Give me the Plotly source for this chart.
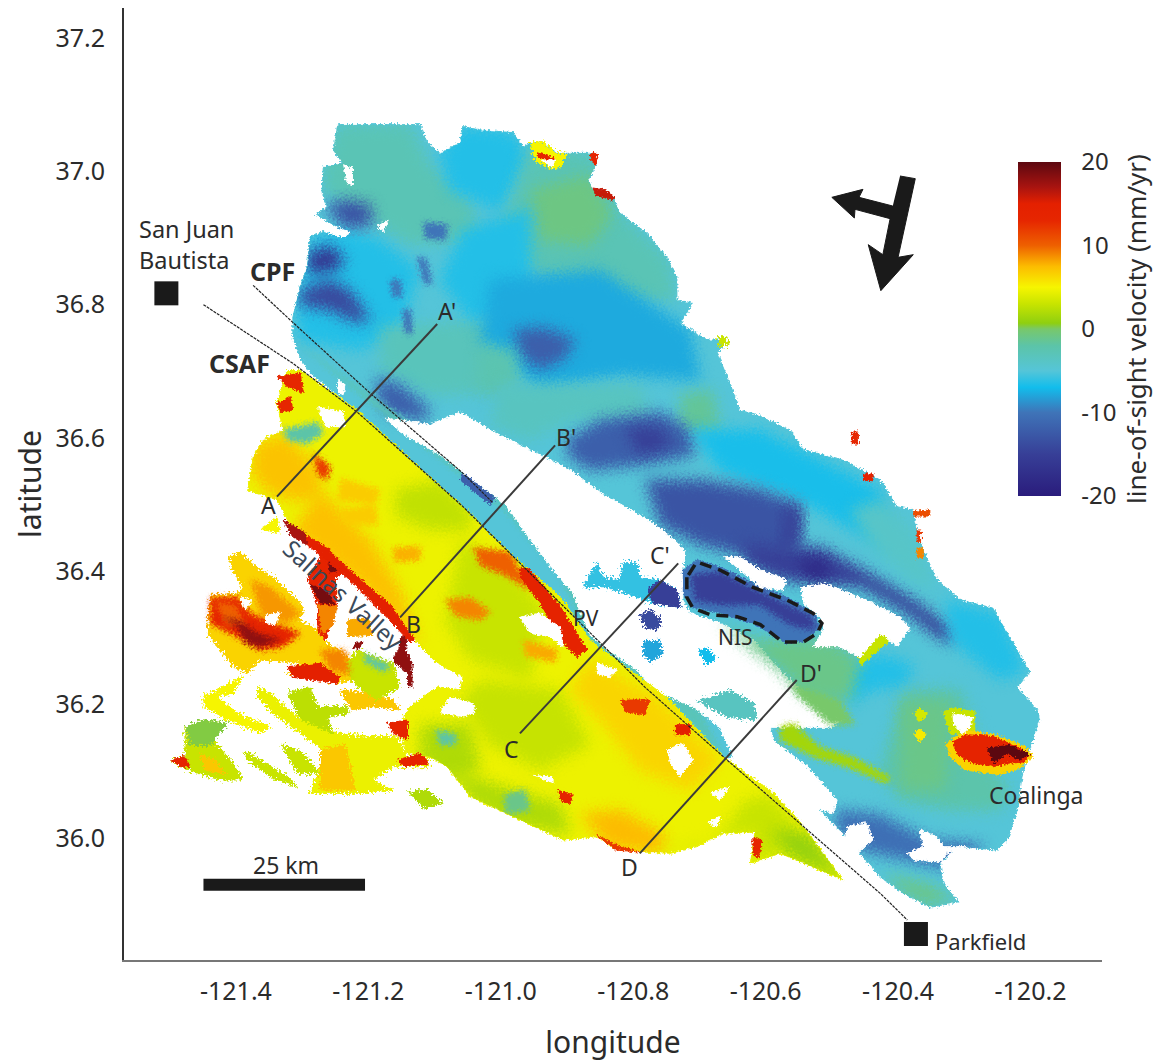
import json
import plotly.graph_objects as go
from plotly.colors import sample_colorscale

# ---- colour scale (line-of-sight velocity, mm/yr) ----
V_MIN, V_MAX = -20, 20
scale_values = [-20, -15, -10, -7, -5, -2, 0, 0.7, 3, 5, 7.5, 10, 13, 15, 17, 20]
scale_colors = ["#2a1c7c", "#373f97", "#3f74b8", "#12bdec", "#55c5d8", "#5cc4a8", "#78c86a", "#8fcf10",
                "#c8e400", "#f6f500", "#fcbc00", "#ee6000", "#e62600", "#e42000", "#a81410", "#5c0810"]
tick_x = [-121.4, -121.2, -121.0, -120.8, -120.6, -120.4, -120.2]
tick_x_text = ["-121.4", "-121.2", "-121.0", "-120.8", "-120.6", "-120.4", "-120.2"]
tick_y = [36.0, 36.2, 36.4, 36.6, 36.8, 37.0, 37.2]
tick_y_text = ["36.0", "36.2", "36.4", "36.6", "36.8", "37.0", "37.2"]
cbar_ticks = [-20, -10, 0, 10, 20]
cbar_text = ["-20", "-10", "0", "10", "20"]

# ---- north-east (blue) side of the scene, lon/lat outline ----
ne_base = [(-121.247,37.070),(-121.122,37.070),(-121.111,37.043),(-121.092,37.027),(-121.061,37.043),(-121.057,37.067),(-121.031,37.062),(-120.981,37.058),(-120.966,37.037),(-120.956,37.043),(-120.936,37.044),(-120.915,37.027),(-120.861,37.027),(-120.855,37.012),(-120.868,36.987),(-120.861,36.972),(-120.830,36.960),(-120.820,36.937),(-120.779,36.907),(-120.749,36.871),(-120.734,36.841),(-120.734,36.807),(-120.710,36.802),(-120.729,36.772),(-120.688,36.747),(-120.658,36.747),(-120.673,36.727),(-120.654,36.682),(-120.639,36.642),(-120.604,36.631),(-120.563,36.612),(-120.543,36.582),(-120.483,36.567),(-120.427,36.537),(-120.402,36.497),(-120.377,36.492),(-120.371,36.457),(-120.356,36.417),(-120.341,36.387),(-120.306,36.357),(-120.257,36.345),(-120.241,36.316),(-120.235,36.307),(-120.201,36.249),(-120.220,36.226),(-120.190,36.192),(-120.186,36.177),(-120.205,36.122),(-120.213,36.091),(-120.220,36.042),(-120.235,35.997),(-120.251,35.982),(-120.287,35.985),(-120.311,35.987),(-120.337,35.962),(-120.332,35.932),(-120.309,35.904),(-120.352,35.896),(-120.392,35.917),(-120.427,35.942),(-120.488,36.012),(-120.548,36.072),(-120.628,36.122),(-120.664,36.122),(-120.749,36.211),(-120.820,36.263),(-120.865,36.297),(-120.910,36.362),(-120.981,36.422),(-121.057,36.497),(-121.107,36.541),(-121.217,36.642),(-121.288,36.697),(-121.303,36.721),(-121.314,36.751),(-121.314,36.781),(-121.303,36.827),(-121.292,36.857),(-121.288,36.902),(-121.247,36.917),(-121.280,36.935),(-121.262,36.947),(-121.270,36.968),(-121.268,37.006),(-121.238,37.012),(-121.253,37.032)]
ne_p1 = [(-121.247,37.070),(-121.137,37.070),(-121.107,37.010),(-121.046,36.957),(-121.031,36.897),(-121.137,36.890),(-121.235,36.950),(-121.268,36.972),(-121.268,37.006)]
ne_p2 = [(-121.092,37.027),(-121.057,37.067),(-120.981,37.058),(-120.956,37.017),(-121.001,36.942),(-121.077,36.972)]
ne_p3 = [(-120.956,37.040),(-120.861,37.027),(-120.820,36.937),(-120.749,36.871),(-120.734,36.807),(-120.790,36.807),(-120.865,36.807),(-120.956,36.852),(-121.001,36.912)]
ne_p4 = [(-120.956,36.972),(-120.865,36.995),(-120.832,36.934),(-120.865,36.889),(-120.941,36.897)]
ne_p5 = [(-121.288,36.902),(-121.235,36.912),(-121.182,36.897),(-121.122,36.852),(-121.152,36.762),(-121.212,36.732),(-121.303,36.747),(-121.310,36.807)]
ne_p6 = [(-121.295,36.875),(-121.258,36.890),(-121.235,36.864),(-121.250,36.852),(-121.288,36.845)]
ne_p7 = [(-121.265,36.947),(-121.235,36.957),(-121.197,36.950),(-121.194,36.920),(-121.235,36.915)]
ne_p8 = [(-121.303,36.822),(-121.258,36.837),(-121.228,36.822),(-121.197,36.777),(-121.220,36.774),(-121.258,36.792),(-121.303,36.799)]
ne_p9 = [(-121.190,36.690),(-121.152,36.680),(-121.107,36.642),(-121.114,36.627),(-121.167,36.634),(-121.185,36.657)]
ne_p10 = [(-121.182,36.767),(-121.001,36.777),(-121.006,36.667),(-121.107,36.665),(-121.182,36.702)]
ne_p11 = [(-121.057,36.912),(-120.956,36.942),(-120.956,36.792),(-121.046,36.777),(-121.092,36.837)]
ne_p12 = [(-121.016,36.837),(-120.850,36.852),(-120.714,36.762),(-120.699,36.687),(-120.820,36.695),(-120.941,36.672),(-121.031,36.747)]
ne_p13 = [(-120.981,36.762),(-120.933,36.765),(-120.888,36.747),(-120.903,36.720),(-120.941,36.702),(-120.971,36.724)]
ne_p15 = [(-121.034,36.739),(-120.978,36.732),(-120.971,36.680),(-121.016,36.665),(-121.034,36.680)]
ne_p16 = [(-121.001,36.680),(-120.790,36.680),(-120.774,36.627),(-120.895,36.627),(-120.956,36.597),(-121.016,36.620)]
ne_p17 = [(-120.729,36.665),(-120.681,36.672),(-120.669,36.612),(-120.729,36.612)]
ne_p18 = [(-120.900,36.597),(-120.850,36.627),(-120.759,36.639),(-120.714,36.612),(-120.707,36.574),(-120.790,36.559),(-120.865,36.552),(-120.900,36.574)]
ne_p19 = [(-120.812,36.615),(-120.759,36.615),(-120.741,36.590),(-120.790,36.574)]
ne_p20 = [(-120.714,36.612),(-120.608,36.612),(-120.427,36.522),(-120.412,36.432),(-120.548,36.507),(-120.669,36.552)]
ne_p21 = [(-120.782,36.537),(-120.699,36.537),(-120.608,36.522),(-120.553,36.500),(-120.553,36.425),(-120.608,36.417),(-120.699,36.440),(-120.759,36.470)]
band_b = [(-120.639,36.440),(-120.578,36.437),(-120.518,36.437),(-120.453,36.402),(-120.377,36.357),(-120.317,36.312),(-120.317,36.292),(-120.341,36.302),(-120.386,36.337),(-120.453,36.376),(-120.513,36.382),(-120.578,36.387),(-120.625,36.410)]
band_core = [(-120.548,36.417),(-120.510,36.417),(-120.503,36.387),(-120.540,36.390)]
band_vert = [(-120.571,36.500),(-120.545,36.495),(-120.548,36.439),(-120.575,36.439)]
ridge_e = [(-120.472,36.492),(-120.427,36.507),(-120.374,36.462),(-120.344,36.372),(-120.382,36.387),(-120.442,36.439)]
cyan_se = [(-120.329,36.357),(-120.246,36.335),(-120.208,36.252),(-120.246,36.237),(-120.321,36.297)]
cyan_mid = [(-120.488,36.255),(-120.427,36.275),(-120.377,36.260),(-120.389,36.230),(-120.442,36.222),(-120.473,36.200)]
green_coal = [(-120.389,36.222),(-120.306,36.222),(-120.269,36.117),(-120.231,36.072),(-120.246,36.042),(-120.321,36.042),(-120.397,36.057),(-120.427,36.102)]
green_coal2 = [(-120.397,36.207),(-120.321,36.207),(-120.329,36.072),(-120.397,36.072)]
dark_south = [(-120.495,36.042),(-120.427,36.035),(-120.352,35.997),(-120.269,35.990),(-120.314,35.952),(-120.389,35.967),(-120.457,35.982),(-120.492,36.012)]
tail_green = [(-120.420,35.945),(-120.352,35.930),(-120.314,35.907),(-120.359,35.900),(-120.397,35.922)]
strip = [(-121.303,36.740),(-121.212,36.665),(-121.107,36.582),(-120.993,36.492),(-120.910,36.395),(-120.865,36.297),(-120.820,36.263),(-120.749,36.211),(-120.664,36.122),(-120.700,36.190),(-120.800,36.280),(-120.900,36.400),(-121.050,36.560)]
streak_a = [(-121.117,36.923),(-121.081,36.920),(-121.084,36.897),(-121.114,36.900)]
streak_b = [(-121.167,36.837),(-121.152,36.837),(-121.149,36.812),(-121.163,36.812)]
streak_c = [(-121.126,36.870),(-121.114,36.870),(-121.104,36.832),(-121.116,36.832)]
streak_d = [(-121.148,36.792),(-121.137,36.792),(-121.134,36.757),(-121.144,36.757)]
streak_e = [(-121.057,36.549),(-121.009,36.510),(-121.016,36.500),(-121.061,36.537)]

# ---- thin bright fringe on the north-east edge ----
edge_y1 = [(-120.956,37.043),(-120.936,37.044),(-120.915,37.027),(-120.900,37.027),(-120.911,37.005),(-120.926,37.005),(-120.948,37.016)]
edge_r1 = [(-120.944,37.028),(-120.920,37.020),(-120.920,37.014),(-120.944,37.022)]
edge_h1 = [(-120.938,37.017),(-120.918,37.017),(-120.923,37.005)]
edge_r2 = [(-120.865,37.027),(-120.855,37.027),(-120.855,37.009),(-120.865,37.017)]
edge_r3 = [(-120.861,36.975),(-120.842,36.972),(-120.826,36.961),(-120.832,36.957),(-120.858,36.965)]
edge_g1 = [(-120.673,36.752),(-120.660,36.752),(-120.656,36.740),(-120.670,36.737)]
edge_r4 = [(-120.470,36.609),(-120.460,36.609),(-120.460,36.591),(-120.470,36.591)]
edge_r5 = [(-120.453,36.546),(-120.438,36.546),(-120.438,36.536),(-120.453,36.536)]
edge_r6 = [(-120.377,36.490),(-120.352,36.492),(-120.352,36.483),(-120.377,36.483)]
edge_r7 = [(-120.372,36.462),(-120.366,36.462),(-120.366,36.445),(-120.372,36.445)]
edge_r8 = [(-120.372,36.435),(-120.362,36.435),(-120.362,36.420),(-120.372,36.420)]

# ---- data gap between the two faults and objects inside it ----
gap_main = [(-121.175,36.630),(-121.107,36.620),(-121.061,36.639),(-121.016,36.612),(-120.966,36.587),(-120.895,36.552),(-120.845,36.515),(-120.794,36.487),(-120.755,36.462),(-120.722,36.432),(-120.725,36.402),(-120.725,36.357),(-120.714,36.337),(-120.669,36.322),(-120.619,36.297),(-120.583,36.257),(-120.553,36.227),(-120.483,36.177),(-120.503,36.166),(-120.593,36.166),(-120.589,36.147),(-120.537,36.107),(-120.492,36.057),(-120.498,36.037),(-120.533,36.047),(-120.574,36.062),(-120.628,36.107),(-120.649,36.122),(-120.669,36.166),(-120.710,36.197),(-120.770,36.222),(-120.794,36.252),(-120.839,36.282),(-120.865,36.305),(-120.891,36.367),(-120.921,36.402),(-120.966,36.462),(-120.993,36.500),(-121.031,36.529),(-121.092,36.575),(-121.152,36.609)]
gap_band = [(-120.876,36.376),(-120.855,36.413),(-120.845,36.391),(-120.820,36.387),(-120.815,36.413),(-120.794,36.413),(-120.790,36.391),(-120.759,36.387),(-120.734,36.372),(-120.729,36.346),(-120.770,36.352),(-120.794,36.361),(-120.839,36.376)]
gap_dark = [(-120.779,36.372),(-120.759,36.387),(-120.734,36.372),(-120.729,36.346),(-120.770,36.352)]
blob_a = [(-120.790,36.335),(-120.774,36.342),(-120.759,36.330),(-120.762,36.312),(-120.782,36.315)]
blob_b = [(-120.785,36.294),(-120.759,36.297),(-120.756,36.275),(-120.774,36.264),(-120.785,36.275)]
blob_c = [(-120.702,36.282),(-120.687,36.285),(-120.675,36.267),(-120.691,36.261)]
blob_d = [(-120.704,36.207),(-120.684,36.211),(-120.654,36.222),(-120.619,36.202),(-120.613,36.177),(-120.658,36.181),(-120.688,36.197)]
green_nis = [(-120.669,36.319),(-120.609,36.297),(-120.503,36.297),(-120.457,36.267),(-120.473,36.207),(-120.533,36.207),(-120.578,36.252)]
green_dp = [(-120.563,36.232),(-120.488,36.207),(-120.465,36.170),(-120.503,36.170),(-120.553,36.215)]
green_band = [(-120.578,36.166),(-120.558,36.172),(-120.518,36.136),(-120.468,36.121),(-120.412,36.091),(-120.417,36.082),(-120.477,36.107),(-120.528,36.122),(-120.578,36.147)]
nis_base = [(-120.725,36.402),(-120.704,36.417),(-120.669,36.407),(-120.619,36.382),(-120.568,36.361),(-120.528,36.337),(-120.518,36.317),(-120.537,36.297),(-120.568,36.292),(-120.619,36.322),(-120.669,36.337),(-120.710,36.346),(-120.725,36.367)]
nis_dark = [(-120.714,36.394),(-120.669,36.399),(-120.608,36.369),(-120.530,36.332),(-120.526,36.312),(-120.563,36.320),(-120.608,36.350),(-120.669,36.350),(-120.707,36.357)]
fringe = [(-120.465,36.297),(-120.420,36.319),(-120.412,36.297),(-120.457,36.259)]
hole_n1 = [(-120.664,36.422),(-120.639,36.422),(-120.608,36.402),(-120.568,36.387),(-120.574,36.372),(-120.608,36.376),(-120.639,36.402)]
hole_n2 = [(-120.548,36.376),(-120.513,36.382),(-120.492,36.375),(-120.438,36.352),(-120.397,36.331),(-120.382,36.315),(-120.402,36.287),(-120.427,36.307),(-120.457,36.271),(-120.488,36.287),(-120.528,36.287),(-120.513,36.312),(-120.518,36.331),(-120.543,36.352)]
hole_s1 = [(-120.477,36.017),(-120.447,36.023),(-120.438,35.997),(-120.462,35.977),(-120.483,35.987)]
hole_s2 = [(-120.386,35.977),(-120.362,35.987),(-120.367,36.012),(-120.341,36.002),(-120.332,35.987),(-120.296,35.987),(-120.326,35.977),(-120.337,35.964),(-120.377,35.967)]
hole_w1 = [(-121.238,37.010),(-121.224,37.005),(-121.224,36.980),(-121.233,36.983)]
hole_w2 = [(-121.187,36.917),(-121.170,36.927),(-121.178,36.909)]
hole_w3 = [(-121.273,36.924),(-121.228,36.909),(-121.235,36.900),(-121.265,36.909)]
hole_w4 = [(-121.247,36.687),(-121.235,36.680),(-121.238,36.665),(-121.247,36.669)]

# ---- Coalinga ----
spot_a = [(-120.377,36.185),(-120.367,36.195),(-120.356,36.185),(-120.367,36.174)]
spot_b = [(-120.376,36.155),(-120.367,36.165),(-120.358,36.155),(-120.367,36.144)]
coal_ring = [(-120.333,36.189),(-120.314,36.195),(-120.284,36.189),(-120.284,36.162),(-120.321,36.155)]
coal_yellow = [(-120.329,36.140),(-120.299,36.162),(-120.254,36.155),(-120.208,36.137),(-120.196,36.122),(-120.216,36.105),(-120.246,36.095),(-120.299,36.102),(-120.321,36.122)]
coal_red = [(-120.318,36.144),(-120.296,36.155),(-120.256,36.152),(-120.216,36.135),(-120.201,36.125),(-120.211,36.114),(-120.235,36.112),(-120.256,36.107),(-120.291,36.114),(-120.311,36.125)]
coal_dark = [(-120.266,36.135),(-120.231,36.139),(-120.201,36.125),(-120.220,36.117),(-120.235,36.127),(-120.256,36.112)]
coal_hole = [(-120.318,36.187),(-120.288,36.181),(-120.291,36.165),(-120.303,36.157),(-120.317,36.172)]

# ---- south-west (yellow) block ----
sw_base = [(-121.303,36.702),(-121.217,36.642),(-121.107,36.541),(-121.057,36.497),(-120.981,36.422),(-120.910,36.362),(-120.865,36.297),(-120.820,36.263),(-120.749,36.211),(-120.664,36.122),(-120.589,36.068),(-120.548,36.024),(-120.483,35.937),(-120.578,35.977),(-120.623,35.962),(-120.616,36.009),(-120.664,36.007),(-120.704,35.987),(-120.744,35.977),(-120.785,35.979),(-120.830,35.985),(-120.855,36.002),(-120.906,35.997),(-120.971,36.027),(-121.046,36.062),(-121.081,36.107),(-121.107,36.122),(-121.141,36.127),(-121.156,36.166),(-121.137,36.197),(-121.096,36.227),(-121.061,36.222),(-121.057,36.241),(-121.096,36.262),(-121.126,36.292),(-121.152,36.327),(-121.217,36.382),(-121.262,36.432),(-121.314,36.462),(-121.338,36.507),(-121.382,36.522),(-121.374,36.571),(-121.359,36.597),(-121.329,36.612),(-121.338,36.652),(-121.323,36.702)]
sw_g1 = [(-121.159,36.522),(-121.092,36.537),(-121.046,36.492),(-121.046,36.462),(-121.107,36.462),(-121.159,36.484)]
sw_g2 = [(-121.061,36.447),(-120.986,36.409),(-120.933,36.342),(-120.956,36.237),(-121.046,36.267),(-121.084,36.327)]
sw_g3 = [(-121.031,36.237),(-120.910,36.222),(-120.865,36.140),(-120.941,36.102),(-121.016,36.140),(-121.061,36.207)]
sw_g4 = [(-121.122,36.170),(-121.046,36.170),(-121.031,36.102),(-121.077,36.087),(-121.122,36.117)]
sw_g5 = [(-121.077,36.102),(-120.910,36.050),(-120.895,36.005),(-120.986,36.020),(-121.046,36.057)]
sw_t1 = [(-120.995,36.065),(-120.963,36.072),(-120.956,36.042),(-120.993,36.035)]
sw_t2 = [(-121.099,36.162),(-121.069,36.155),(-121.069,36.140),(-121.092,36.140)]
sw_o1 = [(-121.371,36.590),(-121.326,36.605),(-121.273,36.552),(-121.273,36.507),(-121.318,36.507),(-121.356,36.522),(-121.378,36.552)]
sw_r1 = [(-121.283,36.577),(-121.258,36.557),(-121.262,36.537),(-121.277,36.547)]
sw_r2 = [(-121.338,36.692),(-121.303,36.697),(-121.298,36.667),(-121.325,36.679)]
sw_r3 = [(-121.338,36.652),(-121.318,36.662),(-121.314,36.642),(-121.333,36.639)]
sw_t3 = [(-121.329,36.612),(-121.277,36.623),(-121.268,36.607),(-121.292,36.592),(-121.323,36.597)]
sw_o2 = [(-121.314,36.462),(-121.212,36.382),(-121.122,36.290),(-121.152,36.372),(-121.197,36.447),(-121.273,36.522)]
sw_edge = [(-121.314,36.466),(-121.262,36.435),(-121.235,36.408),(-121.167,36.350),(-121.130,36.297),(-121.137,36.294),(-121.175,36.334),(-121.220,36.379),(-121.273,36.425),(-121.318,36.459)]
sw_o3 = [(-121.084,36.357),(-121.046,36.360),(-121.016,36.339),(-121.031,36.327),(-121.069,36.334)]
sw_o4 = [(-121.042,36.435),(-120.986,36.429),(-120.956,36.372),(-120.993,36.394),(-121.031,36.409)]
sw_pv = [(-120.971,36.407),(-120.956,36.402),(-120.910,36.347),(-120.870,36.282),(-120.885,36.272),(-120.906,36.293),(-120.941,36.353),(-120.971,36.392)]
sw_o5 = [(-120.865,36.267),(-120.760,36.207),(-120.669,36.117),(-120.714,36.072),(-120.790,36.102),(-120.850,36.177),(-120.895,36.222)]
sw_r4 = [(-120.737,36.170),(-120.714,36.170),(-120.714,36.155),(-120.737,36.155)]
sw_r5 = [(-120.820,36.207),(-120.775,36.207),(-120.782,36.185),(-120.812,36.189)]
sw_o6 = [(-120.880,36.035),(-120.820,36.042),(-120.752,36.005),(-120.759,35.979),(-120.835,35.985)]
sw_rim = [(-120.857,36.005),(-120.827,35.990),(-120.790,35.979),(-120.827,35.982)]
sw_e1 = [(-120.767,35.982),(-120.699,35.990),(-120.661,36.012),(-120.631,36.057),(-120.593,36.065),(-120.483,35.937),(-120.578,35.977),(-120.623,35.962),(-120.616,36.009)]
sw_e2 = [(-120.593,36.012),(-120.533,36.005),(-120.483,35.937),(-120.563,35.975)]
sw_r6 = [(-120.620,36.000),(-120.605,35.997),(-120.611,35.970),(-120.619,35.975)]
sw_r7 = [(-120.913,36.072),(-120.892,36.065),(-120.895,36.050),(-120.910,36.057)]
sw_r8 = [(-121.172,36.172),(-121.141,36.177),(-121.141,36.147),(-121.162,36.157)]
sw_r9 = [(-121.156,36.117),(-121.122,36.127),(-121.107,36.112),(-121.147,36.107)]
sw_m1 = [(-121.243,36.492),(-121.190,36.500),(-121.185,36.470),(-121.235,36.470)]
sw_m2 = [(-121.163,36.435),(-121.122,36.437),(-121.122,36.417),(-121.160,36.414)]
sw_m3 = [(-120.966,36.297),(-120.915,36.282),(-120.918,36.264),(-120.963,36.274)]
sw_m4 = [(-120.805,36.196),(-120.785,36.192),(-120.790,36.177),(-120.808,36.183)]
sw_m5 = [(-121.243,36.540),(-121.182,36.522),(-121.190,36.500),(-121.246,36.507)]
sw_h1 = [(-121.277,36.647),(-121.238,36.639),(-121.235,36.617),(-121.265,36.617)]
sw_h2 = [(-121.092,36.187),(-121.077,36.211),(-121.042,36.202),(-121.039,36.187),(-121.061,36.182)]
sw_h3 = [(-120.971,36.331),(-120.941,36.337),(-120.910,36.316),(-120.906,36.286),(-120.925,36.302),(-120.956,36.307)]
sw_h4 = [(-120.749,36.132),(-120.725,36.142),(-120.710,36.117),(-120.729,36.091),(-120.744,36.112)]
sw_h5 = [(-120.855,36.262),(-120.824,36.252),(-120.835,36.241),(-120.855,36.247)]
sw_h6 = [(-120.684,36.067),(-120.654,36.077),(-120.669,36.057)]
sw_h7 = [(-120.688,36.022),(-120.669,36.032),(-120.673,36.016)]
sw_h8 = [(-120.951,36.094),(-120.921,36.091),(-120.921,36.082)]

# ---- west lobes, beyond the Salinas Valley ----
lobe = [(-121.409,36.422),(-121.394,36.429),(-121.368,36.406),(-121.338,36.387),(-121.298,36.347),(-121.303,36.327),(-121.277,36.312),(-121.262,36.292),(-121.243,36.282),(-121.228,36.267),(-121.223,36.237),(-121.247,36.232),(-121.323,36.247),(-121.303,36.262),(-121.363,36.267),(-121.383,36.247),(-121.404,36.257),(-121.419,36.277),(-121.443,36.307),(-121.439,36.364),(-121.398,36.367),(-121.389,36.376),(-121.406,36.402)]
lobe_o = [(-121.378,36.387),(-121.348,36.376),(-121.303,36.337),(-121.323,36.322),(-121.363,36.337)]
lobe_r = [(-121.439,36.361),(-121.398,36.361),(-121.378,36.337),(-121.344,36.322),(-121.303,36.307),(-121.329,36.287),(-121.363,36.282),(-121.398,36.302),(-121.439,36.322)]
lobe_o2 = [(-121.431,36.354),(-121.401,36.350),(-121.386,36.320),(-121.416,36.320)]
lobe_d = [(-121.419,36.332),(-121.389,36.322),(-121.368,36.307),(-121.333,36.297),(-121.363,36.287),(-121.383,36.292),(-121.398,36.317)]
lobe_h1 = [(-121.394,36.361),(-121.376,36.357),(-121.386,36.342)]
lobe_h2 = [(-121.356,36.334),(-121.333,36.339),(-121.341,36.319),(-121.356,36.324)]
valley = [(-121.292,36.387),(-121.268,36.429),(-121.238,36.402),(-121.250,36.387),(-121.247,36.347),(-121.258,36.320),(-121.265,36.297),(-121.276,36.309),(-121.277,36.350)]
valley_d1 = [(-121.288,36.380),(-121.265,36.372),(-121.250,36.350),(-121.273,36.353)]
valley_d2 = [(-121.265,36.427),(-121.240,36.402),(-121.258,36.399)]
valley_o = [(-121.277,36.350),(-121.247,36.347),(-121.253,36.320),(-121.270,36.305)]
edge_dark = [(-121.329,36.477),(-121.296,36.459),(-121.292,36.439),(-121.318,36.454)]
near_a = [(-121.363,36.462),(-121.338,36.481),(-121.333,36.457)]
sq_orange = [(-121.232,36.327),(-121.200,36.330),(-121.193,36.304),(-121.232,36.302)]
red_blob = [(-121.220,36.294),(-121.209,36.294),(-121.215,36.282),(-121.223,36.285)]
near_b = [(-121.152,36.302),(-121.141,36.302),(-121.144,36.282),(-121.134,36.262),(-121.134,36.227),(-121.140,36.227),(-121.141,36.247),(-121.163,36.267),(-121.155,36.282)]
belt = [(-121.323,36.257),(-121.273,36.262),(-121.243,36.241),(-121.247,36.232),(-121.314,36.241)]
belt_o = [(-121.273,36.282),(-121.235,36.282),(-121.228,36.245),(-121.258,36.252)]
mid_g = [(-121.217,36.282),(-121.163,36.262),(-121.152,36.227),(-121.187,36.207),(-121.217,36.227),(-121.238,36.257)]
mid_t = [(-121.208,36.277),(-121.167,36.259),(-121.175,36.249),(-121.205,36.264)]
s1 = [(-121.449,36.212),(-121.389,36.242),(-121.404,36.217),(-121.428,36.212),(-121.398,36.187),(-121.348,36.167),(-121.363,36.157),(-121.413,36.177),(-121.449,36.197)]
s2 = [(-121.368,36.227),(-121.348,36.217),(-121.303,36.177),(-121.243,36.157),(-121.193,36.152),(-121.156,36.152),(-121.141,36.122),(-121.111,36.122),(-121.107,36.107),(-121.163,36.107),(-121.193,36.087),(-121.163,36.072),(-121.212,36.067),(-121.288,36.067),(-121.273,36.107),(-121.268,36.132),(-121.303,36.157),(-121.344,36.187),(-121.368,36.212)]
s3 = [(-121.323,36.217),(-121.288,36.227),(-121.277,36.197),(-121.232,36.197),(-121.228,36.187),(-121.262,36.181),(-121.253,36.157),(-121.303,36.177)]
s4 = [(-121.243,36.222),(-121.202,36.217),(-121.163,36.207),(-121.152,36.192),(-121.193,36.197),(-121.223,36.192),(-121.238,36.212)]
s5 = [(-121.273,36.132),(-121.235,36.140),(-121.220,36.072),(-121.273,36.072)]
s6 = [(-121.140,36.069),(-121.111,36.072),(-121.087,36.052),(-121.117,36.045)]
w1 = [(-121.499,36.117),(-121.477,36.122),(-121.477,36.166),(-121.449,36.177),(-121.413,36.172),(-121.434,36.147),(-121.404,36.112),(-121.389,36.087),(-121.424,36.087),(-121.458,36.097),(-121.484,36.107)]
w1_t = [(-121.477,36.166),(-121.449,36.177),(-121.413,36.172),(-121.439,36.139),(-121.469,36.139)]
w1_r = [(-121.499,36.117),(-121.477,36.122),(-121.469,36.107),(-121.484,36.107)]
w1_o = [(-121.454,36.125),(-121.431,36.117),(-121.416,36.095),(-121.446,36.102)]
w3 = [(-121.389,36.132),(-121.363,36.117),(-121.314,36.087),(-121.308,36.076),(-121.348,36.091),(-121.383,36.117)]
w4 = [(-121.333,36.142),(-121.298,36.127),(-121.273,36.097),(-121.308,36.097)]

# drawing order: (outline, mm/yr); None is a no-data hole
layers = [
    (ne_base,-5),(ne_p1,-2.8),(ne_p2,-6.5),(ne_p3,-2.8),(ne_p4,-0.8),(ne_p5,-6.5),(ne_p7,-13),(ne_p8,-14),(ne_p6,-16),
    (ne_p10,-3.2),(ne_p11,-6.5),(ne_p12,-7.8),(ne_p13,-12),(ne_p15,-2.5),(ne_p16,-3.5),(ne_p17,-1.5),(ne_p18,-12),(ne_p19,-15),
    (ne_p20,-6.8),(ne_p21,-13),(band_b,-15),(band_core,-18),(band_vert,-15),(ridge_e,-4),(cyan_se,-6.5),(cyan_mid,-6.5),
    (green_coal,-2.2),(green_coal2,-1),(dark_south,-10.5),(tail_green,-1),(ne_p9,-12),
    (streak_a,-10),(streak_b,-10),(streak_c,-10),(streak_d,-10.5),(strip,-3),(streak_e,-12),
    (edge_y1,5),(edge_r1,14),(edge_h1,None),(edge_r2,14),(edge_r3,16),(edge_g1,3),(edge_r4,13),(edge_r5,14),(edge_r6,11),(edge_r7,12),(edge_r8,9),
    (gap_main,None),(gap_band,-6),(gap_dark,-15),(blob_a,-14),(blob_b,-8),(blob_c,-7),(blob_d,-3.5),
    (green_nis,-1),(green_dp,0),(green_band,1.5),(nis_base,-10),(nis_dark,-15),(fringe,3),
    (hole_n1,None),(hole_n2,None),(hole_s1,None),(hole_s2,None),(hole_w1,None),(hole_w2,None),(hole_w3,None),(hole_w4,None),
    (spot_a,3.5),(spot_b,5.5),(coal_ring,3),(coal_yellow,6.5),(coal_red,14),(coal_dark,20),(coal_hole,None),
    (lobe,6.5),(lobe_o,8.5),(lobe_r,13.5),(lobe_o2,10),(lobe_d,18),(lobe_h1,None),(lobe_h2,None),
    (s1,5),(s2,4.5),(s3,2.5),(s4,7),(s5,7),(s6,2),(w1,3),(w1_t,0.3),(w1_r,14),(w1_o,7),(w3,3),(w4,3),
    (mid_g,3),(mid_t,-2),(belt_o,9),(belt,15),(sq_orange,8),(red_blob,18),(near_b,18),
    (valley,14),(valley_d1,19),(valley_d2,19),(valley_o,9),(near_a,5),
    (sw_base,4.6),(sw_g1,2.7),(sw_g2,3),(sw_g3,2.9),(sw_g4,2),(sw_g5,2),(sw_t1,-1),(sw_t2,-2),(sw_o1,7.2),(sw_r1,12),
    (sw_r2,13),(sw_r3,13),(sw_t3,-2),(sw_o2,7.3),(sw_m1,6.8),(sw_m2,7.8),(sw_m3,8),(sw_m4,13),(sw_m5,6.8),
    (sw_edge,15),(edge_dark,17),(sw_o3,9),(sw_o4,10),(sw_pv,14),(sw_o5,6.4),
    (sw_r4,15),(sw_r5,12),(sw_o6,7.5),(sw_rim,12),(sw_e1,3),(sw_e2,1),(sw_r6,13),(sw_r7,14),(sw_r8,14),(sw_r9,14),
    (sw_h1,None),(sw_h2,None),(sw_h3,None),(sw_h4,None),(sw_h5,None),(sw_h6,None),(sw_h7,None),(sw_h8,None),
]
# patches whose edges fade into their surroundings, as they do in the raster
wide_fade = [ne_p1,ne_p2,ne_p3,ne_p4,ne_p5,ne_p7,ne_p8,ne_p6,ne_p10,ne_p11,ne_p12,ne_p13,ne_p15,ne_p16,ne_p17,ne_p18,ne_p19,
             ne_p20,ne_p21,band_b,band_core,band_vert,ridge_e,cyan_se,cyan_mid,green_coal,green_coal2,dark_south,tail_green,ne_p9,
             green_nis,sw_g1,sw_g2,sw_g3,sw_g4,sw_g5,sw_o1,sw_o2,sw_o5,sw_o6,sw_e1,sw_e2]
narrow_fade = [strip,green_dp,green_band,nis_dark,sw_t1,sw_t2,sw_t3,sw_o3,sw_o4,sw_m1,sw_m2,sw_m3,sw_m4,sw_m5,lobe_o,lobe_r,lobe_o2,lobe_d,
               belt_o,mid_t,streak_a,streak_b,streak_c,streak_d,sw_r1]
coarse_edge = [lobe,s1,s2,s3,s4,s5,s6,w1,w1_t,w1_o,w3,w4,mid_g,gap_band,blob_a,blob_b,blob_c,blob_d,edge_y1,edge_g1]

# ---- lines, markers and labels ----
csaf_lon = [-121.449,-121.314,-121.217,-121.057,-120.782,-120.664,-120.427,-120.386]
csaf_lat = [36.800,36.712,36.639,36.497,36.226,36.122,35.917,35.877]
cpf_lon = [-121.374,-121.318,-121.197,-121.057,-121.012]
cpf_lat = [36.829,36.777,36.667,36.547,36.503]
profiles = [((-121.338,-121.096),(36.512,36.771)),((-121.152,-120.918),(36.331,36.589)),
            ((-120.971,-120.732),(36.157,36.412)),((-120.790,-120.553),(35.977,36.237))]
nis_lon = [-120.719,-120.719,-120.710,-120.684,-120.643,-120.608,-120.574,-120.543,-120.522,-120.515,-120.528,-120.568,-120.619,-120.669,-120.704,-120.719]
nis_lat = [36.391,36.361,36.345,36.335,36.332,36.320,36.294,36.294,36.307,36.322,36.337,36.357,36.376,36.402,36.414,36.391]
arrow_lon = [-120.397,-120.374,-120.400,-120.377,-120.426,-120.445,-120.423,-120.412,-120.465,-120.466,-120.500,-120.453,-120.459,-120.408]
arrow_lat = [36.993,36.989,36.871,36.875,36.821,36.890,36.875,36.929,36.943,36.930,36.961,36.973,36.961,36.948]
town_lon = [-121.505,-120.373]
town_lat = [36.817,35.856]
scale_lon = [-121.449,-121.205]
scale_lat = [35.930,35.930]
labels = [("A",-121.351,36.499,23),("A'",-121.081,36.790,23),("B",-121.132,36.321,23),("B'",-120.901,36.601,23),
          ("C",-120.984,36.134,23),("C'",-120.759,36.424,23),("D",-120.805,35.957,23),("D'",-120.531,36.248,23),
          ("PV",-120.871,36.330,21),("NIS",-120.646,36.301,21),("Coalinga",-120.192,36.065,23),("Parkfield",-120.275,35.846,22),
          ("San Juan<br>Bautista",-121.475,36.891,23.5),("<b>CPF</b>",-121.344,36.851,25),("<b>CSAF</b>",-121.394,36.712,25),
          ("25 km",-121.324,35.960,23)]

FONT = "Noto Sans"
INK = "#2b2b2b"
colorscale = [[(v - V_MIN) / (V_MAX - V_MIN), c] for v, c in zip(scale_values, scale_colors)]


def index_of(poly):
    return next(i for i, (p, _) in enumerate(layers) if p is poly)


def has(group, poly):
    return any(poly is p for p in group)


gap_at, sw_at = index_of(gap_main), index_of(sw_base)
fig = go.Figure()
styles = []
for i, (poly, val) in enumerate(layers):
    lon, lat = zip(*poly)
    col = "#ffffff" if val is None else sample_colorscale(colorscale, (val - V_MIN) / (V_MAX - V_MIN))[0]
    fig.add_trace(go.Scatter(x=lon, y=lat, mode="lines", fill="toself", fillcolor=col,
                             line=dict(color=col, width=1), hoverinfo="skip", showlegend=False))
    kind = "mapwide" if has(wide_fade, poly) else "mapnarrow" if has(narrow_fade, poly) else "maprough" if has(coarse_edge, poly) else "mapedge"
    clip = None
    if kind in ("mapwide", "mapnarrow"):
        clip = "clipne" if i < gap_at else "clipsw" if i > sw_at else None
    styles.append([kind, clip])

fig.add_trace(go.Scatter(x=csaf_lon, y=csaf_lat, mode="lines", line=dict(color="#222", width=1.2, dash="3px,1px"), showlegend=False))
fig.add_trace(go.Scatter(x=cpf_lon, y=cpf_lat, mode="lines", line=dict(color="#222", width=1.2, dash="3px,1px"), showlegend=False))
for plon, plat in profiles:
    fig.add_trace(go.Scatter(x=plon, y=plat, mode="lines", line=dict(color="#3a3a3a", width=2), showlegend=False))
fig.add_trace(go.Scatter(x=nis_lon, y=nis_lat, mode="lines", line=dict(color="#1a1a1a", width=3.5, dash="12px,7px"), showlegend=False))
fig.add_trace(go.Scatter(x=arrow_lon, y=arrow_lat, mode="lines", fill="toself", fillcolor="#1a1a1a", line=dict(color="#1a1a1a", width=1), showlegend=False))
fig.add_trace(go.Scatter(x=town_lon, y=town_lat, mode="markers", marker=dict(symbol="square", size=24, color="#1a1a1a"), showlegend=False))
fig.add_trace(go.Scatter(x=scale_lon, y=scale_lat, mode="lines", line=dict(color="#1a1a1a", width=12), showlegend=False))

fig.add_trace(go.Scatter(
    x=[None], y=[None], mode="markers", showlegend=False,
    marker=dict(color=[0], cmin=V_MIN, cmax=V_MAX, colorscale=colorscale, showscale=True,
                colorbar=dict(x=(1018 - 124) / 978, xanchor="left", xpad=0, y=(960 - 162) / 952, yanchor="top", ypad=0,
                              thickness=43, thicknessmode="pixels", len=334, lenmode="pixels",
                              tickvals=cbar_ticks, ticktext=cbar_text, ticks="outside", ticklen=16, tickcolor="rgba(0,0,0,0)",
                              outlinewidth=0, tickfont=dict(family=FONT, size=24, color=INK),
                              title=dict(text="line-of-sight velocity (mm/yr)", side="right",
                                         font=dict(family=FONT, size=26, color=INK))))))

for text, lon, lat, size in labels:
    fig.add_annotation(x=lon, y=lat, text=text, showarrow=False, align="left",
                       font=dict(family=FONT, size=size, color=INK))
fig.add_annotation(x=-121.238, y=36.365, text="Salinas Valley", showarrow=False, textangle=42,
                   font=dict(family=FONT, size=24, color="#3a4a5a"))

fig.update_layout(
    width=1158, height=1062, margin=dict(l=124, r=56, t=8, b=102, autoexpand=False),
    plot_bgcolor="white", paper_bgcolor="white", font=dict(family=FONT, color=INK),
    xaxis=dict(range=[-121.569, -120.092], tickvals=tick_x, ticktext=tick_x_text, showgrid=False, zeroline=False,
               showline=True, linecolor="#777", linewidth=2, ticks="", tickfont=dict(size=25), ticklabelstandoff=8,
               title=dict(text="longitude", font=dict(size=30), standoff=28)),
    yaxis=dict(range=[35.817, 37.245], tickvals=tick_y, ticktext=tick_y_text, showgrid=False, zeroline=False,
               showline=True, linecolor="#333", linewidth=2, ticks="", tickfont=dict(size=25), ticklabelstandoff=12,
               title=dict(text="latitude", font=dict(size=30), standoff=5)),
)

# Grain and soft edges of the satellite raster, applied to the map polygons only.
post = """
document.body.style.margin='0';document.documentElement.style.overflow='hidden';
var svg=document.querySelector('.main-svg');
var make=function(id,blur,scale){
  var b=blur?'<feGaussianBlur in="SourceGraphic" stdDeviation="'+blur+'" result="s"/>':'<feOffset in="SourceGraphic" result="s"/>';
  return '<filter id="'+id+'" x="-40%" y="-40%" width="180%" height="180%" color-interpolation-filters="sRGB">'+b+
    '<feTurbulence type="fractalNoise" baseFrequency="0.45" numOctaves="2" seed="4" result="n"/>'+
    '<feDisplacementMap in="s" in2="n" scale="'+scale+'" xChannelSelector="R" yChannelSelector="G"/></filter>';
};
var styles=STYLES,ne=NE_AT,sw=SW_AT;
var traces=document.querySelectorAll('.scatterlayer .trace');
var outline=function(i){return traces[i].querySelector('path.js-fill').getAttribute('d');};
var d=document.createElementNS('http://www.w3.org/2000/svg','defs');
d.innerHTML=make('mapwide',7,14)+make('mapnarrow',2.5,10)+make('maprough',0,11)+make('mapedge',0,6)+
  '<clipPath id="clipne"><path d="'+outline(ne)+'"/></clipPath><clipPath id="clipsw"><path d="'+outline(sw)+'"/></clipPath>';
svg.insertBefore(d,svg.firstChild);
for(var i=0;i<styles.length;i++){
  traces[i].style.filter='url(#'+styles[i][0]+')';
  if(styles[i][1]){traces[i].style.clipPath='url(#'+styles[i][1]+')';}
}
""".replace("STYLES", json.dumps(styles)).replace("NE_AT", str(index_of(ne_base))).replace("SW_AT", str(sw_at))
fig.write_html("out.html", post_script=post, config={"displayModeBar": False})
